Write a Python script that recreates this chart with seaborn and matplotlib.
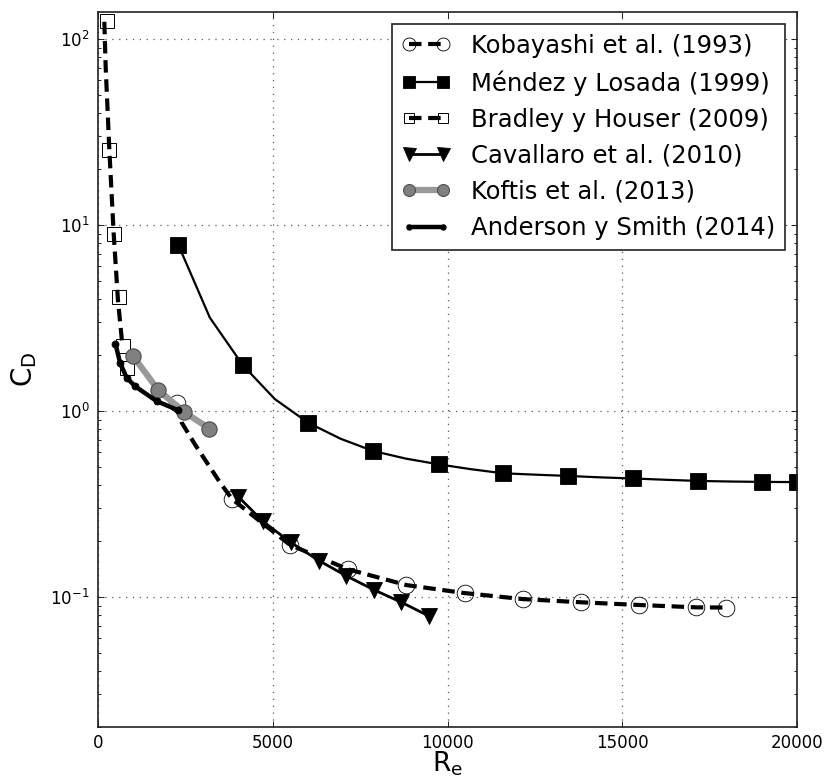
import matplotlib
matplotlib.use("Agg")
import matplotlib.pyplot as plt
from matplotlib.lines import Line2D
import seaborn as sns

# ---------------- data ----------------
labels = ["Kobayashi et al. (1993)", "Méndez y Losada (1999)", "Bradley y Houser (2009)",
          "Cavallaro et al. (2010)", "Koftis et al. (2013)", "Anderson y Smith (2014)"]

kob_mx = [2250, 3840, 5490, 7150, 8820, 10490, 12150, 13820, 15490, 17120, 17960]
kob_my = [1.10, 0.336, 0.191, 0.141, 0.116, 0.105, 0.0975, 0.0937, 0.0906, 0.0880, 0.0878]
kob_lx = [2250, 2390, 2800, 3200, 3490, 3840, 4700, 5490, 7150, 8820, 10490, 12150, 13820,
          15490, 17120, 17960]
kob_ly = [1.10, 0.87, 0.65, 0.50, 0.413, 0.336, 0.25, 0.191, 0.141, 0.116, 0.105, 0.0975,
          0.0937, 0.0906, 0.0880, 0.0878]

men_mx = [2300, 4150, 6010, 7870, 9750, 11580, 13440, 15310, 17180, 19010, 20000]
men_my = [7.82, 1.76, 0.866, 0.61, 0.517, 0.463, 0.448, 0.434, 0.421, 0.416, 0.416]
men_lx = [2300, 3200, 4150, 5060, 6010, 6940, 7870, 8810, 9750, 10670, 11580, 12510, 13440,
          14380, 15310, 16250, 17180, 18100, 19010, 20000]
men_ly = [7.82, 3.18, 1.76, 1.16, 0.866, 0.71, 0.61, 0.555, 0.517, 0.487, 0.463, 0.455, 0.448,
          0.440, 0.434, 0.427, 0.421, 0.418, 0.416, 0.415]

bra_mx = [250, 324, 467, 600, 705, 820]
bra_my = [125, 25.5, 8.95, 4.09, 2.24, 1.70]
bra_lx = [181, 219, 324, 448, 571, 686]
bra_ly = [124, 71.3, 25.5, 9.03, 3.95, 2.38]

cav_x = [4010, 4720, 5510, 6320, 7100, 7910, 8680, 9470]
cav_y = [0.347, 0.255, 0.197, 0.157, 0.130, 0.109, 0.0937, 0.079]

kof_x = [990, 1720, 2460, 3190]
kof_y = [1.99, 1.30, 0.99, 0.805]

and_x = [500, 630, 820, 1060, 1680, 2300]
and_y = [2.30, 1.82, 1.51, 1.36, 1.13, 1.01]

xticks = [0, 5000, 10000, 15000, 20000]

# ---------------- style ----------------
plt.rcParams.update({
    "font.family": ["DejaVu Sans"],
    "mathtext.default": "regular",
    "xtick.direction": "in", "ytick.direction": "in",
    "xtick.top": True, "ytick.right": True,
    "xtick.major.size": 4, "ytick.major.size": 4,
    "xtick.minor.size": 2, "ytick.minor.size": 2,
    "xtick.major.width": 0.6, "ytick.major.width": 0.6,
    "ytick.minor.width": 0.6,
    "xtick.labelsize": 12, "ytick.labelsize": 12,
    "xtick.major.pad": 5, "ytick.major.pad": 6,
    "axes.linewidth": 1.2,
    "axes.edgecolor": "#222222",
})

fig = plt.figure(figsize=(8.25, 7.82), dpi=100)
ax = fig.add_axes([98 / 825, 1 - 727 / 782, (797 - 98) / 825, (727 - 12) / 782])
ax.set_yscale("log")

dash = (0, (3.0, 1.6))

styles = {
    "kob_line": dict(color="k", linestyle=dash, linewidth=3),
    "kob_mark": dict(color="k", linestyle="", marker="o", markersize=12,
                     mfc="none", mec="k", mew=0.6),
    "men_line": dict(color="k", linestyle="-", linewidth=1.6),
    "men_mark": dict(color="k", linestyle="", marker="s", markersize=11,
                     mfc="k", mec="k", mew=0.6),
    "bra_line": dict(color="k", linestyle=dash, linewidth=3),
    "bra_mark": dict(color="k", linestyle="", marker="s", markersize=10,
                     mfc="none", mec="k", mew=0.7),
    "cav": dict(color="k", linestyle="-", linewidth=2, marker="v", markersize=12,
                mfc="k", mec="k", mew=0.6),
    "kof": dict(color="0.6", linestyle="-", linewidth=4.5, marker="o", markersize=11,
                mfc="0.5", mec="0.3", mew=0.8),
    "and": dict(color="k", linestyle="-", linewidth=3.2, marker="o", markersize=5,
                mfc="k", mec="k", mew=0.6),
}


def draw(xs, ys, st):
    sns.lineplot(x=xs, y=ys, ax=ax, sort=False, estimator=None, **st)


draw(kob_lx, kob_ly, styles["kob_line"])
draw(kob_mx, kob_my, styles["kob_mark"])
draw(men_lx, men_ly, styles["men_line"])
draw(men_mx, men_my, styles["men_mark"])
draw(bra_lx, bra_ly, styles["bra_line"])
draw(bra_mx, bra_my, styles["bra_mark"])
draw(cav_x, cav_y, styles["cav"])
draw(kof_x, kof_y, styles["kof"])
draw(and_x, and_y, styles["and"])

ax.set_xlim(0, 20000)
ax.set_ylim(0.02, 140)
ax.set_xticks(xticks)
ax.set_xticklabels([str(t) for t in xticks])
ax.grid(True, which="major", linestyle=(0, (1, 4.5)), color="0.35", linewidth=0.9)
ax.set_axisbelow(True)

ax.set_xlabel("R$_e$", fontsize=19, labelpad=-2)
ax.set_ylabel("C$_D$", fontsize=20, labelpad=8)


def merge(a, b):
    d = dict(a)
    for k in ("marker", "markersize", "mfc", "mec", "mew"):
        d[k] = b[k]
    return d


handle_styles = [
    merge(styles["kob_line"], styles["kob_mark"]),
    merge(styles["men_line"], styles["men_mark"]),
    merge(styles["bra_line"], styles["bra_mark"]),
    styles["cav"], styles["kof"], styles["and"],
]
handles = [Line2D([], [], **st) for st in handle_styles]
leg = ax.legend(handles, labels, loc="upper right", fontsize=17.5, numpoints=2,
                markerscale=0.78, handlelength=2.0, fancybox=False, framealpha=1,
                edgecolor="#222222", borderaxespad=0.5, labelspacing=0.5,
                handletextpad=0.85, borderpad=0.4)
leg.get_frame().set_linewidth(1.2)

fig.savefig("out.png", dpi=100, facecolor="white")
